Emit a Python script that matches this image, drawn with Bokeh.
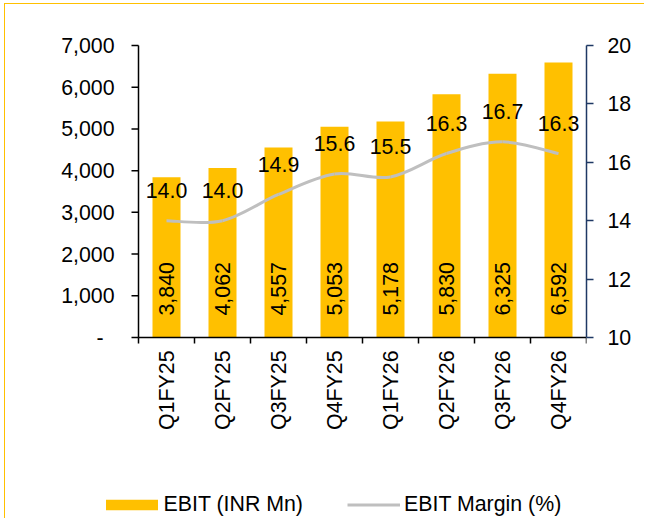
import math
from bokeh.plotting import figure
from bokeh.models import (Range1d, LinearAxis, FixedTicker, Legend, LegendItem,
                          ColumnDataSource)
from bokeh.core.properties import value
from bokeh.embed import file_html
from bokeh.resources import INLINE

# ---- data ----
quarters = ["Q1FY25", "Q2FY25", "Q3FY25", "Q4FY25", "Q1FY26", "Q2FY26", "Q3FY26", "Q4FY26"]
ebit = [3840, 4062, 4557, 5053, 5178, 5830, 6325, 6592]
margin = [14.0, 14.0, 14.9, 15.6, 15.5, 16.3, 16.7, 16.3]
left_ticks = [0, 1000, 2000, 3000, 4000, 5000, 6000, 7000]
left_tick_labels = ["-", "1,000", "2,000", "3,000", "4,000", "5,000", "6,000", "7,000"]
right_ticks = [10, 12, 14, 16, 18, 20]

FONT = "Liberation Sans"
FS = "16pt"
BAR = "#FFC000"
LINE = "#BFBFBF"
NAVY = "#1F3864"

n = len(quarters)
xs = [i + 0.5 for i in range(n)]
bounds_x = list(range(n + 1))

# ---- layout geometry (canvas pixels; canvas origin is page (5, 4)) ----
OX, OY = 5, 4
W, H = 640, 515
FL, FR, FT, FB = 20, 581, 10, 515      # frame edges
AX_L, AX_T, AX_B = 133, 41, 333        # where the value axes sit
px_x = (FR - AX_L) / n
px_yl = (AX_B - AX_T) / (left_ticks[-1] - left_ticks[0])
px_yr = (AX_B - AX_T) / (right_ticks[-1] - right_ticks[0])
x_start = -(AX_L - FL) / px_x
yl_start = left_ticks[0] - (FB - AX_B) / px_yl
yl_end = left_ticks[-1] + (AX_T - FT) / px_yl
yr_start = right_ticks[0] - (FB - AX_B) / px_yr
yr_end = right_ticks[-1] + (AX_T - FT) / px_yr
TICK_L = 7 / px_x      # left tick length in data units
TICK_B = 6 / px_yl     # bottom tick length in data units

p = figure(width=W, height=H, output_backend="svg", toolbar_location=None,
           x_range=Range1d(x_start, n), y_range=Range1d(yl_start, yl_end),
           min_border_left=FL, min_border_right=W - FR, min_border_top=FT,
           min_border_bottom=H - FB, x_axis_type=None, y_axis_type=None)
p.styles = {"margin-left": "4px", "margin-top": "3px",
            "border-left": "1px solid #FFC000", "border-top": "1px solid #FFC000"}
p.extra_y_ranges = {"m": Range1d(yr_start, yr_end)}
p.grid.visible = False
p.outline_line_color = None
p.background_fill_color = "white"
p.border_fill_color = "white"

# bars
src = ColumnDataSource(dict(x=xs, top=ebit, lab=[f"{v:,}" for v in ebit], q=quarters,
                            m=margin, mlab=[f"{v:.1f}" for v in margin]))
bars = p.vbar(x="x", top="top", width=0.5, bottom=0, source=src,
              fill_color=BAR, line_color=None)

# smoothed margin line (Catmull-Rom style bezier segments)
pts = list(zip(xs, margin))
x0s, y0s, x1s, y1s, cx0, cy0, cx1, cy1 = ([] for _ in range(8))
for i in range(n - 1):
    P0 = pts[i - 1] if i > 0 else pts[i]
    P1 = pts[i]
    P2 = pts[i + 1]
    P3 = pts[i + 2] if i + 2 < n else pts[i + 1]
    x0s.append(P1[0]); y0s.append(P1[1])
    x1s.append(P2[0]); y1s.append(P2[1])
    cx0.append(P1[0] + (P2[0] - P0[0]) / 6); cy0.append(P1[1] + (P2[1] - P0[1]) / 6)
    cx1.append(P2[0] - (P3[0] - P1[0]) / 6); cy1.append(P2[1] - (P3[1] - P1[1]) / 6)
curve = p.bezier(x0=x0s, y0=y0s, x1=x1s, y1=y1s, cx0=cx0, cy0=cy0, cx1=cx1, cy1=cy1,
                 line_color=LINE, line_width=3, y_range_name="m")

# data labels
p.text(x="x", y=0, text="lab", source=src, angle=math.pi / 2, text_align="left",
       text_baseline="middle", y_offset=-22, text_font=value(FONT),
       text_font_size=FS, text_color="black")
p.text(x="x", y="m", text="mlab", source=src, y_range_name="m", text_align="center",
       text_baseline="middle", y_offset=-30, text_font=value(FONT),
       text_font_size=FS, text_color="black")

# ---- primary value axis (left) ----
p.segment(x0=[0], y0=[left_ticks[0]], x1=[0], y1=[left_ticks[-1]],
          line_color="black", line_width=1.5)
p.segment(x0=[0] * len(left_ticks), x1=[-TICK_L] * len(left_ticks),
          y0=left_ticks, y1=left_ticks, line_color="black", line_width=1.5)
lsrc = ColumnDataSource(dict(y=left_ticks, t=left_tick_labels, x=[0] * len(left_ticks),
                             off=[-35 if t == "-" else -24 for t in left_tick_labels]))
p.text(x="x", y="y", text="t", source=lsrc, x_offset="off", text_align="right",
       text_baseline="middle", text_font=value(FONT), text_font_size=FS,
       text_color="black")

# ---- category axis (bottom) ----
p.segment(x0=[bounds_x[0]], y0=[0], x1=[bounds_x[-1]], y1=[0],
          line_color="black", line_width=1.5)
p.segment(x0=bounds_x, x1=bounds_x, y0=[0] * len(bounds_x), y1=[-TICK_B] * len(bounds_x),
          line_color="black", line_width=1.5)
p.text(x="x", y=0, text="q", source=src, angle=math.pi / 2, text_align="right",
       text_baseline="middle", y_offset=13, text_font=value(FONT),
       text_font_size=FS, text_color="black")

# ---- secondary value axis (right) ----
yr = LinearAxis(y_range_name="m", ticker=FixedTicker(ticks=right_ticks, minor_ticks=[]),
                bounds=(right_ticks[0], right_ticks[-1]))
yr.axis_line_color = NAVY
yr.axis_line_width = 1.5
yr.major_tick_line_color = NAVY
yr.major_tick_line_width = 1.5
yr.major_tick_out = 7
yr.major_tick_in = 0
yr.major_label_standoff = 14
yr.major_label_text_font = FONT
yr.major_label_text_font_size = FS
yr.major_label_text_color = "black"
p.add_layout(yr, "right")

# legends (one per item so each swatch gets its own size)
frame_left_page = OX + FL
common = dict(orientation="horizontal", padding=0, margin=0, border_line_alpha=0,
              background_fill_alpha=0, label_text_font=FONT, label_text_font_size=FS,
              label_text_color="black")
leg1 = Legend(items=[LegendItem(label="EBIT (INR Mn)", renderers=[bars])],
              location=(98.5 - frame_left_page, 2), glyph_width=65, glyph_height=13,
              label_standoff=0, **common)
leg2 = Legend(items=[LegendItem(label="EBIT Margin (%)", renderers=[curve])],
              location=(347 - frame_left_page, 2), glyph_width=53, glyph_height=13,
              label_standoff=4, **common)
p.add_layout(leg1, "center")
p.add_layout(leg2, "center")

open("out.html", "w").write(file_html(p, INLINE))
